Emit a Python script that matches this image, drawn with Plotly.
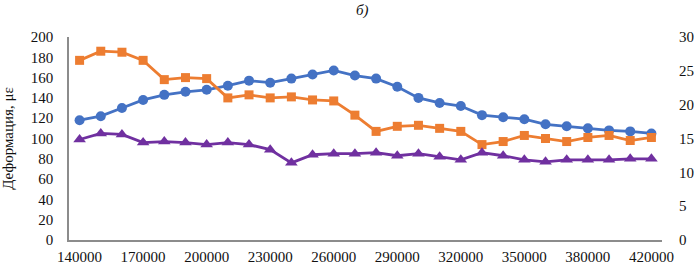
import plotly.graph_objects as go

categories = [140000, 150000, 160000, 170000, 180000, 190000, 200000, 210000,
              220000, 230000, 240000, 250000, 260000, 270000, 280000, 290000,
              300000, 310000, 320000, 330000, 340000, 350000, 360000, 370000,
              380000, 390000, 400000, 420000]

blue = [118, 122, 130, 138, 143, 146, 148, 152, 157, 155, 159, 163, 167, 162,
        159, 151, 140, 135, 132, 123, 121, 119, 114, 112, 110, 108, 107, 105]
orange = [177, 186, 185, 177, 158, 160, 159, 140, 143, 140, 141, 138, 137, 123,
          107, 112, 113, 110, 107, 94, 97, 103, 100, 97, 101, 103, 98, 101]
purple = [99, 105, 104, 96, 97, 96, 94, 96, 94, 89, 76, 84, 85, 85,
          86, 83, 85, 82, 79, 86, 83, 79, 77, 79, 79, 79, 80, 80]

y_title = "Деформация, με"
chart_title = "б)"

idx = list(range(len(categories)))
tickvals = idx[::3]
ticktext = [str(c) for c in categories[::3]]

FONT = "Liberation Serif, Times New Roman, serif"

fig = go.Figure()
fig.add_trace(go.Scatter(x=idx, y=blue, mode="lines+markers",
                         line=dict(color="#4472C4", width=2.8),
                         marker=dict(symbol="circle", size=10, color="#4472C4")))
fig.add_trace(go.Scatter(x=idx, y=orange, mode="lines+markers",
                         line=dict(color="#ED7D31", width=2.8),
                         marker=dict(symbol="square", size=9, color="#ED7D31")))
fig.add_trace(go.Scatter(x=idx, y=purple, mode="lines+markers",
                         line=dict(color="#7030A0", width=2.8),
                         marker=dict(symbol="triangle-up", size=11, color="#7030A0")))
# empty trace so the secondary axis is drawn
fig.add_trace(go.Scatter(x=[None], y=[None], yaxis="y2", showlegend=False,
                         hoverinfo="skip"))

fig.update_layout(
    width=694, height=265,
    margin=dict(l=69, r=32, t=37, b=25),
    paper_bgcolor="white", plot_bgcolor="white",
    showlegend=False,
    font=dict(family=FONT, size=15, color="#111"),
    xaxis=dict(range=[-0.5, len(categories) - 0.5], tickvals=tickvals,
               ticktext=ticktext, showgrid=False, zeroline=False,
               showline=True, linecolor="#8c8c8c", linewidth=1.5,
               ticks="", ticklabelstandoff=2, automargin=False),
    yaxis=dict(range=[0, 200], dtick=20, showgrid=False, zeroline=False,
               showline=True, linecolor="#8c8c8c", linewidth=1.5,
               ticks="", ticklabelstandoff=11, automargin=False,
               title=dict(text=y_title, font=dict(size=15), standoff=14)),
    yaxis2=dict(range=[0, 30], dtick=5, overlaying="y", side="right",
                showgrid=False, zeroline=False, showline=False, ticks="",
                ticklabelstandoff=16, automargin=False),
    annotations=[dict(text="<i>" + chart_title + "</i>", x=0.495, y=1,
                      xref="paper", yref="paper", yanchor="middle", yshift=27,
                      showarrow=False, font=dict(size=15))],
)

fig.write_html("out.html", config={"displayModeBar": False},
               post_script="document.body.style.margin='0';")
